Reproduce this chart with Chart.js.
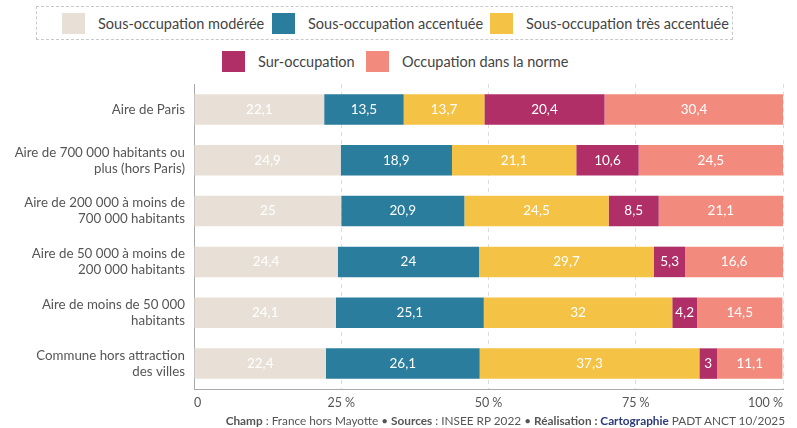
<!DOCTYPE html>
<html lang="fr">
<head>
<meta charset="UTF-8">
<title>Occupation des logements</title>
<script src="https://cdn.jsdelivr.net/npm/chart.js"></script>
<style>
  body { margin: 0; background: #fff; font-family: Lato, "Open Sans", sans-serif; }
  #wrap { position: relative; width: 797px; height: 428px; }
  #legend1 { position: absolute; left: 36px; top: 6px; width: 697px; height: 34px;
             border: 1px dashed #c8c8c8; box-sizing: border-box; }
  .item { position: absolute; font-size: 14.5px; color: #444; line-height: 22px; white-space: nowrap; }
  .sw { display: inline-block; width: 23px; height: 21px; vertical-align: middle; margin-right: 13px; margin-top: -3px; }
  #footer { position: absolute; right: 12px; top: 413px; font-size: 11.8px; color: #555; white-space: nowrap; }
  #footer b { color: #555; }
  #footer .c { color: #2b3a78; font-weight: bold; }
</style>
</head>
<body>
<div id="wrap">
  <div id="legend1"></div>
  <div class="item" style="left:62px;top:13px"><span class="sw" style="background:#e8e0d6"></span>Sous-occupation modérée</div>
  <div class="item" style="left:272px;top:13px"><span class="sw" style="background:#2a7d9c"></span>Sous-occupation accentuée</div>
  <div class="item" style="left:490px;top:13px"><span class="sw" style="background:#f4c245"></span>Sous-occupation très accentuée</div>
  <div class="item" style="left:222px;top:51px"><span class="sw" style="background:#b02f66"></span>Sur-occupation</div>
  <div class="item" style="left:366px;top:51px"><span class="sw" style="background:#f28b7e"></span>Occupation dans la norme</div>
  <canvas id="chart" width="797" height="428" style="position:absolute;left:0;top:0"></canvas>
  <div id="footer"><b>Champ</b> : France hors Mayotte • <b>Sources</b> : INSEE RP 2022 • <b>Réalisation : </b><span class="c">Cartographie</span> PADT ANCT 10/2025</div>
</div>
<script>
const categories = [
  'Aire de Paris',
  ['Aire de 700 000 habitants ou', 'plus (hors Paris)'],
  ['Aire de 200 000 à moins de', '700 000 habitants'],
  ['Aire de 50 000 à moins de', '200 000 habitants'],
  ['Aire de moins de 50 000', 'habitants'],
  ['Commune hors attraction', 'des villes']
];
const seriesNames = ['Sous-occupation modérée', 'Sous-occupation accentuée', 'Sous-occupation très accentuée', 'Sur-occupation', 'Occupation dans la norme'];
const seriesColors = ['#e8e0d6', '#2a7d9c', '#f4c245', '#b02f66', '#f28b7e'];
const sousModeree   = [22.1, 24.9, 25, 24.4, 24.1, 22.4];
const sousAccentuee = [13.5, 18.9, 20.9, 24, 25.1, 26.1];
const sousTres      = [13.7, 21.1, 24.5, 29.7, 32, 37.3];
const surOccupation = [20.4, 10.6, 8.5, 5.3, 4.2, 3];
const normeValues   = [30.4, 24.5, 21.1, 16.6, 14.5, 11.1];
const tickLabels = { 0: '0', 25: '25 %', 50: '50 %', 75: '75 %', 100: '100 %' };

const allSeries = [sousModeree, sousAccentuee, sousTres, surOccupation, normeValues];

// valeurs écrites au centre de chaque segment
const valueLabels = {
  id: 'valueLabels',
  afterDatasetsDraw(chart) {
    const ctx = chart.ctx;
    ctx.save();
    ctx.font = '13.5px Lato, sans-serif';
    ctx.fillStyle = '#fff';
    ctx.textAlign = 'center';
    ctx.textBaseline = 'middle';
    chart.data.datasets.forEach((ds, i) => {
      chart.getDatasetMeta(i).data.forEach((bar, j) => {
        const cx = (bar.x + bar.base) / 2;
        ctx.fillText(String(ds.data[j]).replace('.', ','), cx, bar.y);
      });
    });
    ctx.restore();
  }
};

new Chart(document.getElementById('chart'), {
  type: 'bar',
  data: {
    labels: categories,
    datasets: allSeries.map((vals, i) => ({
      label: seriesNames[i],
      data: vals,
      backgroundColor: seriesColors[i],
      borderWidth: 0,
      categoryPercentage: 0.6,
      barPercentage: 1
    }))
  },
  options: {
    indexAxis: 'y',
    responsive: false,
    animation: false,
    layout: { padding: { top: 84, right: 14, bottom: 19, left: 0 } },
    plugins: { legend: { display: false }, tooltip: { enabled: false } },
    scales: {
      x: {
        stacked: true,
        min: 0,
        max: 100,
        afterFit(scale) { scale.height = 20; },
        ticks: {
          stepSize: 25,
          align: 'inner',
          color: '#555',
          font: { family: 'Lato', size: 12.5 },
          padding: 6,
          callback: v => tickLabels[v]
        },
        grid: { color: '#dcdcdc', drawTicks: false },
        border: { color: '#aaa', dash: [4, 4] }
      },
      y: {
        stacked: true,
        afterFit(scale) { scale.width = 194; },
        ticks: {
          color: '#555',
          font: { family: 'Lato', size: 13.3 },
          padding: 1
        },
        grid: { display: false },
        border: { color: '#aaa' }
      }
    }
  },
  plugins: [valueLabels]
});
</script>
</body>
</html>
